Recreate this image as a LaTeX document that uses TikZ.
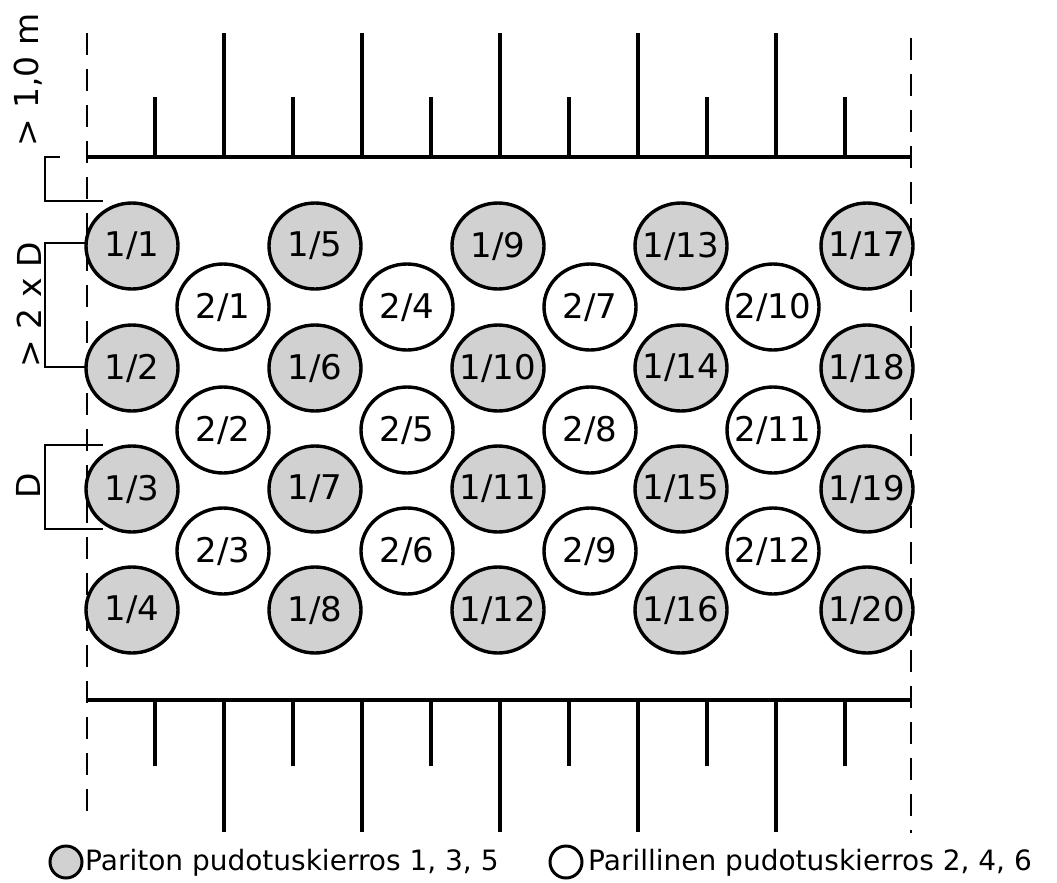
\documentclass[tikz,border=0pt]{standalone}
\usepackage{fontspec}
\setmainfont{DejaVu Sans}
\usetikzlibrary{shapes.geometric}
\begin{document}
\begin{tikzpicture}[x=1pt,y=-1pt,
  hole/.style={ellipse, draw, line width=3.4pt, minimum width=92pt, minimum height=86pt, inner sep=0pt, font=\fontsize{34}{40}\selectfont},
  oddhole/.style={hole, fill=black!18},
  evenhole/.style={hole, fill=white},
  rulel/.style={line width=3.4pt},
  tickl/.style={line width=3.2pt},
  diml/.style={line width=2pt},
  guide/.style={line width=2.8pt, dash pattern=on 22pt off 14pt},
  dimlabel/.style={rotate=90, font=\fontsize{33}{40}\selectfont, inner sep=0pt},
  legendtext/.style={font=\fontsize{28}{34}\selectfont, anchor=west, inner sep=0pt},
  legendmark/.style={circle, draw, line width=3pt, minimum size=32pt, inner sep=0pt},
]
\useasboundingbox (0,0) rectangle (1057,883);
\fill[white] (0,0) rectangle (1057,883);

% guide (dashed) lines
\coordinate (gl1) at (87,33);  \coordinate (gl2) at (87,822);
\coordinate (gr1) at (911,38); \coordinate (gr2) at (911,833);
\draw[guide] (gl1) -- (gl2);
\draw[guide] (gr1) -- (gr2);

% top and bottom rules with ticks
\coordinate (tl) at (87,157); \coordinate (tr) at (911,157);
\coordinate (bl) at (87,700); \coordinate (br) at (911,700);
\draw[rulel] (tl) -- (tr);
\draw[rulel] (bl) -- (br);
\foreach \i in {0,...,10}{
  \pgfmathsetmacro{\tx}{155+69*\i}
  \ifodd\i
    \draw[tickl] (\tx,157) -- (\tx,33);
    \draw[tickl] (\tx,700) -- (\tx,832);
  \else
    \draw[tickl] (\tx,157) -- (\tx,97);
    \draw[tickl] (\tx,700) -- (\tx,766);
  \fi
}

% dimension lines
\draw[diml] (60,157) -- (45,157) -- (45,201) -- (103,201);
\draw[diml] (103,243) -- (45,243) -- (45,367) -- (103,367);
\draw[diml] (103,445) -- (45,445) -- (45,529) -- (103,529);
\node[dimlabel] (d1) at (28,80) {> 1,0 m};
\node[dimlabel] (d2) at (29,305) {> 2 x D};
\node[dimlabel] (d3) at (28,486) {D};

% odd round holes
\foreach \j/\cx in {0/132,1/315,2/498,3/681,4/867}{
  \foreach \i/\cy in {0/246,1/368,2/489,3/610}{
    \pgfmathtruncatemacro{\n}{4*\j+\i+1}
    \node[oddhole] (a\n) at (\cx,\cy) {\makebox[0pt]{1/\n}};
  }
}
% even round holes
\foreach \j/\cx in {0/223,1/407,2/590,3/773}{
  \foreach \i/\cy in {0/307,1/430,2/551}{
    \pgfmathtruncatemacro{\n}{3*\j+\i+1}
    \node[evenhole] (b\n) at (\cx,\cy) {\makebox[0pt]{2/\n}};
  }
}

% legend
\node[legendmark, fill=black!18] (lg1) at (66,862) {};
\node[legendtext] (lt1) at (85,863) {Pariton pudotuskierros 1, 3, 5};
\node[legendmark, fill=white] (lg2) at (566,862) {};
\node[legendtext] (lt2) at (588,863) {Parillinen pudotuskierros 2, 4, 6};
\end{tikzpicture}
\end{document}
